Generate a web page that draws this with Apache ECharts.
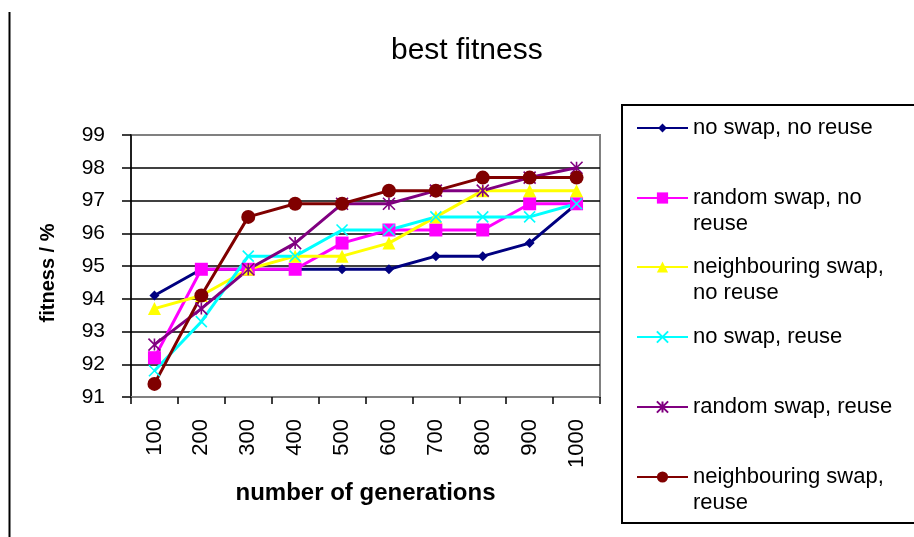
<!DOCTYPE html>
<html>
<head>
<meta charset="utf-8">
<script src="https://cdn.jsdelivr.net/npm/echarts@6/dist/echarts.min.js"></script>
<style>
  html, body { margin: 0; padding: 0; background: #ffffff; }
  #chart { width: 914px; height: 537px; }
</style>
</head>
<body>
<div id="chart"></div>
<script>
// Generations on the x axis
const generations = ['100', '200', '300', '400', '500', '600', '700', '800', '900', '1000'];

// Best fitness (%) per configuration
const noSwapNoReuse        = [94.1, 94.9, 94.9, 94.9, 94.9, 94.9, 95.3, 95.3, 95.7, 96.9];
const randomSwapNoReuse    = [92.2, 94.9, 94.9, 94.9, 95.7, 96.1, 96.1, 96.1, 96.9, 96.9];
const neighbourSwapNoReuse = [93.7, 94.1, 94.9, 95.3, 95.3, 95.7, 96.5, 97.3, 97.3, 97.3];
const noSwapReuse          = [91.8, 93.3, 95.3, 95.3, 96.1, 96.1, 96.5, 96.5, 96.5, 96.9];
const randomSwapReuse      = [92.6, 93.7, 94.9, 95.7, 96.9, 96.9, 97.3, 97.3, 97.7, 98.0];
const neighbourSwapReuse   = [91.4, 94.1, 96.5, 96.9, 96.9, 97.3, 97.3, 97.7, 97.7, 97.7];

// Series names and how they wrap inside the legend box
const seriesNames = [
  'no swap, no reuse',
  'random swap, no reuse',
  'neighbouring swap, no reuse',
  'no swap, reuse',
  'random swap, reuse',
  'neighbouring swap, reuse'
];
const legendLines = [
  ['no swap, no reuse'],
  ['random swap, no', 'reuse'],
  ['neighbouring swap,', 'no reuse'],
  ['no swap, reuse'],
  ['random swap, reuse'],
  ['neighbouring swap,', 'reuse']
];

// Fitness axis range
const yMin = 91;
const yMax = 99;
const yStep = 1;

const FONT = '"Liberation Sans", Arial, sans-serif';
const crossPath = 'path://M0,0L10,10M10,0L0,10';
const starPath = 'path://M5,0L5,10M0,0L10,10M10,0L0,10';

const styles = [
  { color: '#000080', symbol: 'diamond', size: 10 },
  { color: '#FF00FF', symbol: 'rect', size: 13 },
  { color: '#FFFF00', symbol: 'triangle', size: 13 },
  { color: '#00FFFF', symbol: crossPath, size: 11, stroke: true },
  { color: '#800080', symbol: starPath, size: 12, stroke: true },
  { color: '#800000', symbol: 'circle', size: 14 }
];
const seriesData = [noSwapNoReuse, randomSwapNoReuse, neighbourSwapNoReuse,
                    noSwapReuse, randomSwapReuse, neighbourSwapReuse];

const series = seriesNames.map((name, i) => {
  const s = styles[i];
  return {
    name: name,
    type: 'line',
    data: seriesData[i],
    symbol: s.symbol,
    symbolSize: s.size,
    showAllSymbol: true,
    lineStyle: { color: s.color, width: 3 },
    itemStyle: s.stroke
      ? { color: s.color, borderColor: s.color, borderWidth: 1.6 }
      : { color: s.color, borderWidth: 0 },
    emphasis: { disabled: true },
    animation: false
  };
});

// One legend block per series so each entry sits at its own row
const legendCentres = [128, 198, 267, 337, 407, 477];
const lineH = 26;
const legends = seriesNames.map((name, i) => {
  const lines = legendLines[i];
  const text = lines.length > 1 ? '\n' + lines.join('\n') : lines[0];
  const blockH = lines.length > 1 ? lineH * 3 : lineH;
  return {
    data: [name],
    orient: 'vertical',
    left: 636,
    top: legendCentres[i] - blockH / 2,
    padding: 0,
    itemWidth: 51,
    itemHeight: i === 0 ? 11 : 14,
    selectedMode: false,
    lineStyle: { width: 2 },
    formatter: () => text,
    textStyle: { fontSize: 22, color: '#000', fontFamily: FONT, lineHeight: lineH }
  };
});

const chart = echarts.init(document.getElementById('chart'), null, { renderer: 'canvas' });
chart.setOption({
  backgroundColor: '#ffffff',
  animation: false,
  textStyle: { fontFamily: FONT },
  title: {
    text: 'best fitness',
    left: 391,
    top: 36,
    padding: 0,
    textStyle: { fontSize: 30, fontWeight: 'normal', color: '#000', fontFamily: FONT }
  },
  grid: {
    left: 131, right: 314, top: 135, bottom: 140,
    show: true, borderColor: '#808080', borderWidth: 2, backgroundColor: '#ffffff'
  },
  legend: legends,
  xAxis: {
    type: 'category',
    data: generations,
    boundaryGap: true,
    axisLine: { lineStyle: { color: '#808080', width: 2 } },
    axisTick: { show: true, length: 7, lineStyle: { color: '#000', width: 1.5 } },
    axisLabel: { rotate: 90, interval: 0, fontSize: 22, color: '#000', margin: 22, fontFamily: FONT },
    splitLine: { show: false },
    name: 'number of generations',
    nameLocation: 'middle',
    nameGap: 84,
    nameTextStyle: { fontSize: 24, fontWeight: 'bold', color: '#000', fontFamily: FONT }
  },
  yAxis: {
    type: 'value',
    min: yMin, max: yMax, interval: yStep,
    axisLine: { show: true, lineStyle: { color: '#000', width: 1.5 } },
    axisTick: { show: true, length: 9, lineStyle: { color: '#000', width: 1.5 } },
    axisLabel: { fontSize: 21, color: '#000', margin: 26, fontFamily: FONT },
    splitLine: { show: true, showMinLine: false, showMaxLine: false, lineStyle: { color: '#000', width: 1.5 } },
    name: 'fitness / %',
    nameLocation: 'middle',
    nameGap: 73,
    nameRotate: 90,
    nameTextStyle: { fontSize: 20, fontWeight: 'bold', color: '#000', fontFamily: FONT, padding: [0, 14, 0, 0] }
  },
  graphic: [
    { type: 'rect', silent: true, shape: { x: 622, y: 105, width: 300, height: 418 },
      style: { fill: 'none', stroke: '#000', lineWidth: 2 } },
    { type: 'line', silent: true, shape: { x1: 9.5, y1: 12, x2: 9.5, y2: 537 },
      style: { stroke: '#000', lineWidth: 2 } }
  ],
  series: series
});
</script>
</body>
</html>
